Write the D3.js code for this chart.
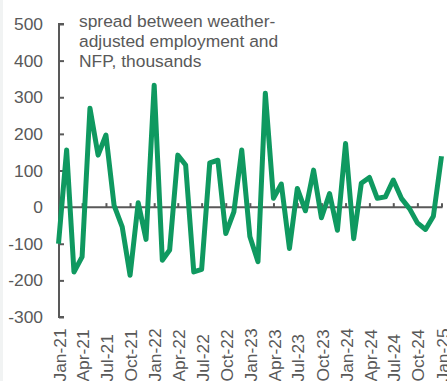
<!DOCTYPE html>
<html><head><meta charset="utf-8">
<script src="https://cdn.jsdelivr.net/npm/d3@7"></script>
<style>body{margin:0;background:#fff;}svg{display:block;}</style>
</head><body>
<svg id="c" width="447" height="381"></svg>
<script>
const startMonth = "2021-01";
const values = [-100,156,-177,-136,270,142,197,5,-54,-186,12,-88,333,-145,-117,142,115,-177,-170,121,128,-72,-13,156,-80,-149,311,24,63,-113,51,-10,101,-29,37,-63,174,-86,65,81,24,28,74,24,-4,-43,-61,-25,139];
const yTicks = [-300,-200,-100,0,100,200,300,400,500];
const titleLines = ["spread between weather-","adjusted employment and","NFP, thousands"];

const svg = d3.select("#c");
const parse = d3.timeParse("%Y-%m");
const t0 = parse(startMonth);
const dates = values.map((v,i)=>d3.timeMonth.offset(t0,i));
const data = values.map((v,i)=>({d:dates[i],v}));

const x = d3.scaleTime().domain([dates[0],dates[dates.length-1]]).range([58.5,441.5]);
const y = d3.scaleLinear().domain([-300,500]).range([317,24]);
const grey = "#595959";
const font = "Liberation Sans, Arial, sans-serif";
const fs = 17.4;

svg.append("rect").attr("x",0).attr("y",0).attr("width",3).attr("height",381).attr("fill","#f1f3f3");

// y axis
const ya = svg.append("g").attr("transform","translate(59,0)")
  .call(d3.axisRight(y).tickValues(yTicks).tickSize(5).tickFormat(""));
ya.select(".domain").attr("stroke",grey).attr("stroke-width",2).attr("d",`M5,${y(-300)}H0V${y(500)}H5`);
ya.selectAll(".tick line").attr("stroke",grey).attr("stroke-width",2);
svg.append("g").selectAll("text").data(yTicks).join("text")
  .attr("x",43).attr("y",d=>y(d)).attr("dy","0.35em").attr("text-anchor","end")
  .attr("font-family",font).attr("font-size",fs).attr("fill",grey).text(d=>d);

// x axis at zero
const qTicks = dates.filter(d=>d.getMonth()%3===0);
const xa = svg.append("g").attr("transform",`translate(0,${y(0)})`)
  .call(d3.axisTop(x).tickValues(qTicks).tickSize(4).tickFormat(""));
xa.select(".domain").attr("stroke",grey).attr("stroke-width",2).attr("d",`M${x(dates[0])},0H${x(dates[dates.length-1])+1}`);
xa.selectAll(".tick line").attr("stroke",grey).attr("stroke-width",2);
const fmt = d3.timeFormat("%b-%y");
svg.append("g").selectAll("text").data(qTicks).join("text")
  .attr("transform",d=>`translate(${x(d)+1},381.5) rotate(-90)`)
  .attr("dy","0.35em").attr("text-anchor","start")
  .attr("font-family",font).attr("font-size",fs).attr("fill",grey).text(d=>fmt(d));

// line
svg.append("path").datum(data)
  .attr("d",d3.line().x(d=>x(d.d)).y(d=>y(d.v)))
  .attr("fill","none").attr("stroke","#0f9960").attr("stroke-width",5)
  .attr("stroke-linejoin","round").attr("stroke-linecap","butt");

// title
svg.append("g").selectAll("text").data(titleLines).join("text")
  .attr("x",79).attr("y",(d,i)=>27+i*20)
  .attr("font-family",font).attr("font-size",fs).attr("fill",grey).text(d=>d);
</script>
</body></html>
